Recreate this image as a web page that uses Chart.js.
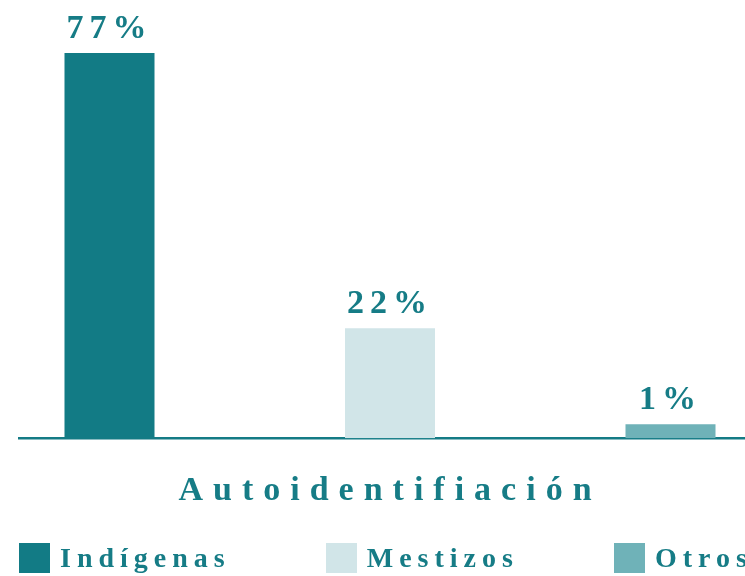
<!DOCTYPE html>
<html lang="es">
<head>
<meta charset="utf-8">
<title>Autoidentificación</title>
<script src="https://cdn.jsdelivr.net/npm/chart.js@4/dist/chart.umd.min.js"></script>
<style>
  html, body { margin: 0; padding: 0; background: #ffffff; overflow: hidden; }
  #wrap { position: relative; width: 745px; height: 576px; overflow: hidden; }
  #chart { position: absolute; left: 0; top: 0; }
  #legend {
    position: absolute; left: 19px; top: 543px;
    display: flex; white-space: nowrap;
    font-family: "Liberation Serif", "Times New Roman", serif;
    font-weight: bold; font-size: 28px; letter-spacing: 6px; color: #167c86;
  }
  #legend .item { display: flex; align-items: flex-start; margin-right: 95px; flex: none; }
  #legend .box { width: 31px; height: 30px; margin-right: 10px; flex: none; }
  #legend .txt { line-height: 30px; height: 30px; }
</style>
</head>
<body>
<div id="wrap">
  <canvas id="chart" width="780" height="545"></canvas>
  <div id="legend"></div>
</div>
<script>
// Data
const categories = ['Autoidentifiación'];
const seriesNames = ['Indígenas', 'Mestizos', 'Otros'];
const indigenas = [77];
const mestizos = [22];
const otros = [1];

// Styles
const TEAL = '#147b85';
const TEXT = '#167c86';
const barColors = ['#127b85', '#d1e5e8', '#6fb2b8'];
const SERIF = '"Liberation Serif", "Times New Roman", serif';

const seriesValues = [indigenas, mestizos, otros];

// Percentage labels above each bar
const valueLabels = {
  id: 'valueLabels',
  afterDatasetsDraw(chart) {
    const ctx = chart.ctx;
    ctx.save();
    ctx.letterSpacing = '6px';
    ctx.font = 'bold 34px ' + SERIF;
    ctx.fillStyle = TEXT;
    ctx.textAlign = 'center';
    ctx.textBaseline = 'alphabetic';
    chart.data.datasets.forEach((ds, i) => {
      const meta = chart.getDatasetMeta(i);
      meta.data.forEach((bar, j) => {
        ctx.fillText(ds.data[j] + '%', bar.x, bar.y - 15);
      });
    });
    ctx.restore();
  }
};

// Wide tracking for the category label on the x axis
const axisTracking = {
  id: 'axisTracking',
  beforeDraw(chart) { chart.ctx.letterSpacing = '10px'; },
  afterDraw(chart) { chart.ctx.letterSpacing = '0px'; }
};

// Legend rendered as HTML below the canvas
const htmlLegend = {
  id: 'htmlLegend',
  afterUpdate(chart) {
    const host = document.getElementById('legend');
    host.innerHTML = '';
    chart.data.datasets.forEach((ds) => {
      const item = document.createElement('div');
      item.className = 'item';
      const box = document.createElement('span');
      box.className = 'box';
      box.style.background = ds.backgroundColor;
      const txt = document.createElement('span');
      txt.className = 'txt';
      txt.textContent = ds.label;
      item.appendChild(box);
      item.appendChild(txt);
      host.appendChild(item);
    });
  }
};

new Chart(document.getElementById('chart'), {
  type: 'bar',
  data: {
    labels: categories,
    datasets: seriesNames.map((name, i) => ({
      label: name,
      data: seriesValues[i],
      backgroundColor: barColors[i],
      borderWidth: 0,
      minBarLength: 14
    }))
  },
  options: {
    responsive: false,
    animation: false,
    events: [],
    layout: { padding: { left: 19, right: 19, top: 38, bottom: 0 } },
    categoryPercentage: 1.1341,
    barPercentage: 0.3209,
    scales: {
      x: {
        grid: { display: false, drawTicks: false },
        border: { display: true, color: TEAL, width: 2.5 },
        ticks: {
          color: TEXT,
          padding: 33,
          font: { family: SERIF, weight: 'bold', size: 34 }
        }
      },
      y: {
        display: false,
        min: 0,
        max: 80
      }
    },
    plugins: {
      legend: { display: false },
      tooltip: { enabled: false }
    }
  },
  plugins: [valueLabels, axisTracking, htmlLegend]
});
</script>
</body>
</html>
